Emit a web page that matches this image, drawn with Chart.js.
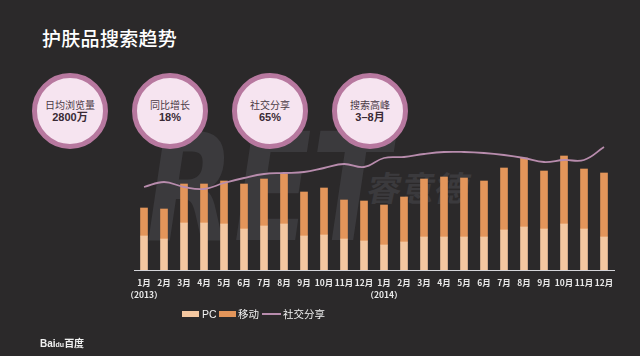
<!DOCTYPE html>
<html>
<head>
<meta charset="utf-8">
<script src="https://cdn.jsdelivr.net/npm/chart.js@4/dist/chart.umd.min.js"></script>
<style>
  html, body { margin:0; padding:0; }
  body { width:640px; height:356px; background:#2b292a; position:relative; overflow:hidden;
         font-family:"Noto Sans CJK SC","Noto Sans",sans-serif; }
  .abs { position:absolute; }
  #title { left:42px; top:25px; font-size:19px; line-height:26px; color:#ffffff; font-weight:500; letter-spacing:0.3px; }
  .circle { position:absolute; width:66px; height:66px; border:5px solid #b7789f; border-radius:50%;
            background:#f6e4f0; display:flex; flex-direction:column; align-items:center; justify-content:center;
            color:#3a2a35; }
  .circle .l1 { font-size:10px; line-height:12px; color:#4a3a45; }
  .circle .l2 { font-size:11px; line-height:13px; font-weight:bold; font-family:"Liberation Sans","Noto Sans CJK SC",sans-serif; }
  #wm1 { left:146px; top:113px; font-family:"DejaVu Sans",sans-serif; font-weight:bold; font-style:italic;
         font-size:150px; line-height:150px; color:#3b3a3d; transform:scaleX(0.76); transform-origin:left top; white-space:nowrap; }
  #wm2 { left:368px; top:170px; font-size:34px; line-height:34px; font-weight:bold; color:#3b3a3d;
         transform:skewX(-12deg); white-space:nowrap; }
  canvas { position:absolute; left:0; top:0; }
  .legtxt { position:absolute; top:307px; font-size:10.5px; line-height:14px; color:#f2f2f2; white-space:nowrap; }
  .legbox { position:absolute; top:311px; width:17px; height:6px; }
  #baidu { left:40px; top:338px; font-size:10px; line-height:12px; color:#f0f0f0; font-weight:bold; white-space:nowrap; font-family:"Liberation Sans","Noto Sans CJK SC",sans-serif; }
</style>
</head>
<body>
<div id="wm1" class="abs">RET</div>
<div id="wm2" class="abs">睿意德</div>
<div id="title" class="abs">护肤品搜索趋势</div>
<div class="circle" style="left:32px;top:73px;"><div class="l1">日均浏览量</div><div class="l2">2800万</div></div>
<div class="circle" style="left:132px;top:73px;"><div class="l1">同比增长</div><div class="l2">18%</div></div>
<div class="circle" style="left:232px;top:73px;"><div class="l1">社交分享</div><div class="l2">65%</div></div>
<div class="circle" style="left:332px;top:73px;"><div class="l1">搜索高峰</div><div class="l2">3–8月</div></div>
<canvas id="c" width="640" height="356"></canvas>
<div class="legbox" style="left:182px;background:#f4c7a0;"></div>
<div class="legtxt" style="left:202px;font-family:'Liberation Sans',sans-serif;">PC</div>
<div class="legbox" style="left:219px;background:#e3955a;"></div>
<div class="legtxt" style="left:238px;">移动</div>
<div class="abs" style="left:262px;top:313px;width:19px;height:2px;background:#b88cad;"></div>
<div class="legtxt" style="left:283px;">社交分享</div>
<div id="baidu" class="abs">Bai<span style="font-size:7px;">du</span>百度</div>
<script>
const months = ['1月','2月','3月','4月','5月','6月','7月','8月','9月','10月','11月','12月',
                '1月','2月','3月','4月','5月','6月','7月','8月','9月','10月','11月','12月'];
const yearLabels = {0:'（2013）', 12:'（2014）'};
const pcValues     = [34,31,47,47,46,41,44,46,34,35,31,29, 25,28,33,33,33,33,40,43,41,46,41,33];
const mobileValues = [28,30,39,39,43,45,47,50,44,47,39,40, 40,45,58,60,59,56,62,69,58,68,60,64];
const shareValues  = [83,88,83,81,87,92,96,97,98,102,106,103, 112,113,116,118,118,117,115,112,108,110,110,123];

const labels = months.map((m,i) => yearLabels[i] ? [m, yearLabels[i]] : m);

new Chart(document.getElementById('c'), {
  data: {
    labels: labels,
    datasets: [
      { type:'line', label:'社交分享', data:shareValues, yAxisID:'y2', borderColor:'#b88cad', borderWidth:1.8,
        tension:0.4, pointRadius:0, fill:false, order:0 },
      { type:'bar', label:'PC', data:pcValues, backgroundColor:'#f4c7a0', barThickness:7, stack:'s', order:1 },
      { type:'bar', label:'移动', data:mobileValues, backgroundColor:'#e3955a', barThickness:7, stack:'s', order:1 }
    ]
  },
  options: {
    responsive:false, animation:false, events:[],
    layout:{ padding:{ left:134, right:26, top:130, bottom:36 } },
    plugins:{ legend:{ display:false }, tooltip:{ enabled:false } },
    scales:{
      x:{ stacked:true, offset:true,
          grid:{ drawOnChartArea:false, drawTicks:false, color:'transparent' },
          border:{ display:true, color:'#d4d4d8', width:1 },
          ticks:{ color:'#e8e8e8', autoSkip:false, maxRotation:0, padding:6,
                  font:{ family:'"Noto Sans CJK SC", sans-serif', size:8.5, weight:'bold', lineHeight:1.5 } },
          afterFit:(s)=>{ s.height = 50; } },
      y:{ stacked:true, display:false, min:0, max:140 },
      y2:{ display:false, min:0, max:140 }
    }
  }
});
</script>
</body>
</html>
